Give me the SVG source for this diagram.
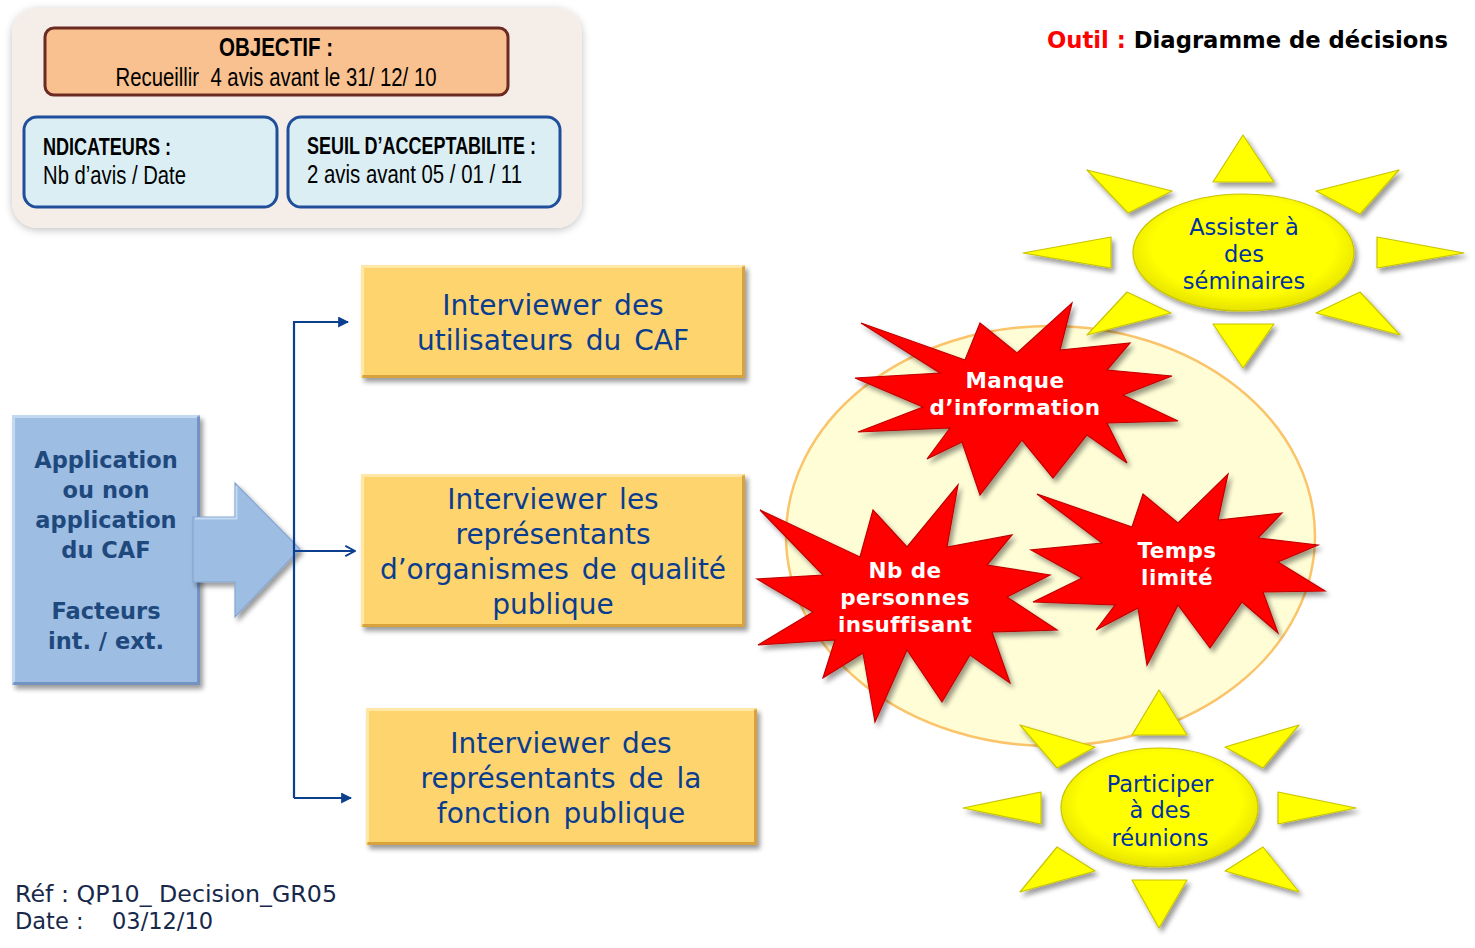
<svg xmlns="http://www.w3.org/2000/svg" width="1475" height="948" viewBox="0 0 1475 948">
<style>
.nar{font-family:"Liberation Sans Narrow","Liberation Sans",Arial,sans-serif;fill:#000;}
.b{font-weight:bold;}
.yb{fill:#fdd46e;}
.yhl{fill:none;stroke:#ffe8a6;stroke-width:3;}
.ydk{fill:none;stroke:#d8a23c;stroke-width:3;}
.yt{font-family:"DejaVu Sans",Verdana,sans-serif;font-size:28px;fill:#0a3c8f;text-anchor:middle;word-spacing:4px;}
.bt{font-family:"DejaVu Sans",Verdana,sans-serif;font-weight:bold;font-size:22.5px;fill:#1f497d;text-anchor:middle;}
.st{font-family:"DejaVu Sans",Verdana,sans-serif;font-weight:bold;font-size:21.5px;fill:#fff;text-anchor:middle;letter-spacing:0.4px;}
.star{fill:#ff0000;stroke:#c00000;stroke-width:1.2;stroke-linejoin:miter;}
.ray{fill:#ffff00;stroke:#c9c400;stroke-width:1.2;stroke-linejoin:round;}
.sunt{font-family:"DejaVu Sans",Verdana,sans-serif;font-size:22.5px;fill:#0033a0;text-anchor:middle;}
.conn{fill:none;stroke:#0d3f8f;stroke-width:2.2;}
.foot{font-family:"DejaVu Sans",Verdana,sans-serif;font-size:22.5px;fill:#17284a;}
</style>
<defs>
<filter id="sh" x="-10%" y="-10%" width="130%" height="130%">
<feGaussianBlur in="SourceAlpha" stdDeviation="2.5"/>
<feOffset dx="3" dy="4" result="o"/>
<feComponentTransfer><feFuncA type="linear" slope="0.4"/></feComponentTransfer>
<feMerge><feMergeNode/><feMergeNode in="SourceGraphic"/></feMerge>
</filter>
<filter id="glow" x="-10%" y="-10%" width="120%" height="125%">
<feGaussianBlur in="SourceAlpha" stdDeviation="4"/>
<feOffset dx="0" dy="2" result="o"/>
<feComponentTransfer><feFuncA type="linear" slope="0.25"/></feComponentTransfer>
<feMerge><feMergeNode/><feMergeNode in="SourceGraphic"/></feMerge>
</filter>
<radialGradient id="sunG" cx="50%" cy="45%" r="55%">
<stop offset="0.75" stop-color="#ffff00"/>
<stop offset="1" stop-color="#e6e200"/>
</radialGradient>
<radialGradient id="starG" cx="50%" cy="50%" r="55%">
<stop offset="0.6" stop-color="#ff0000"/>
<stop offset="1" stop-color="#f21010"/>
</radialGradient>
<marker id="ah" viewBox="0 0 10 10" refX="9" refY="5" markerWidth="5" markerHeight="5" orient="auto" markerUnits="strokeWidth">
<path d="M0,0 L10,5 L0,10 z" fill="#0d3f8f"/>
</marker>
<marker id="ao" viewBox="0 0 10 10" refX="9" refY="5" markerWidth="5.5" markerHeight="5.5" orient="auto" markerUnits="strokeWidth">
<path d="M1,0.8 L9,5 L1,9.2" fill="none" stroke="#0d3f8f" stroke-width="1.6"/>
</marker>
</defs>
<rect width="1475" height="948" fill="#fff"/>

<!-- top-left panel -->
<g id="panel">
<rect x="12" y="8" width="570" height="220" rx="26" fill="#f5ede7" filter="url(#glow)"/>
</g>
<g id="objectif">
<rect x="45" y="28" width="463" height="67" rx="9" fill="#f9c090" stroke="#6b2a22" stroke-width="3"/>
<text class="nar b" x="276" y="56" font-size="25" text-anchor="middle" textLength="114" lengthAdjust="spacingAndGlyphs">OBJECTIF :</text>
<text class="nar" x="276" y="86" font-size="25" text-anchor="middle" textLength="321" lengthAdjust="spacingAndGlyphs" xml:space="preserve">Recueillir  4 avis avant le 31/ 12/ 10</text>
</g>
<g id="indicateurs">
<rect x="24" y="117" width="253" height="90" rx="13" fill="#dbeef4" stroke="#1f4e9a" stroke-width="3"/>
<text class="nar b" x="43" y="155" font-size="24" textLength="128" lengthAdjust="spacingAndGlyphs">NDICATEURS :</text>
<text class="nar" x="43" y="184" font-size="25" textLength="143" lengthAdjust="spacingAndGlyphs">Nb d’avis / Date</text>
</g>
<g id="seuil">
<rect x="288" y="117" width="272" height="90" rx="13" fill="#dbeef4" stroke="#1f4e9a" stroke-width="3"/>
<text class="nar b" x="307" y="154" font-size="24" textLength="229" lengthAdjust="spacingAndGlyphs">SEUIL D’ACCEPTABILITE :</text>
<text class="nar" x="307" y="183" font-size="25" textLength="215" lengthAdjust="spacingAndGlyphs">2 avis avant 05 / 01 / 11</text>
</g>

<!-- title -->
<g id="title">
<text x="1047" y="48" font-family="DejaVu Sans,Verdana,sans-serif" font-weight="bold" font-size="22.5" textLength="401" lengthAdjust="spacingAndGlyphs"><tspan fill="#ff0000">Outil : </tspan><tspan fill="#000">Diagramme de décisions</tspan></text>
</g>

<!-- source box -->
<g id="source">
<rect x="12" y="415" width="188" height="270" fill="#9dbde3" filter="url(#sh)"/>
<path d="M13.5,683.5 V416.5 H198.5" fill="none" stroke="#c3d8f1" stroke-width="3"/>
<path d="M198.5,416.5 V683.5 H13.5" fill="none" stroke="#7393c0" stroke-width="3"/>
<polygon points="193,517 235,517 235,483 300,549 235,617 235,582 193,582" fill="#9dbde3" stroke="#86a6d0" stroke-width="1.2" filter="url(#sh)"/>
<path d="M195,518.5 H236.5 V486" fill="none" stroke="#c3d8f1" stroke-width="2"/>
<text class="bt" x="106" y="468">Application</text>
<text class="bt" x="106" y="498">ou non</text>
<text class="bt" x="106" y="528">application</text>
<text class="bt" x="106" y="558">du CAF</text>
<text class="bt" x="106" y="619">Facteurs</text>
<text class="bt" x="106" y="649">int. / ext.</text>
</g>

<!-- connectors -->
<g id="connectors">
<path class="conn" d="M294,798 V322 H348" marker-end="url(#ah)"/>
<path class="conn" d="M294,551 H355" marker-end="url(#ao)"/>
<path class="conn" d="M294,798 H351" marker-end="url(#ah)"/>
</g>

<!-- option boxes -->
<g id="opt1" filter="url(#sh)">
<rect class="yb" x="361" y="265" width="384" height="113"/>
<path class="yhl" d="M362.5,376.5 V266.5 H743.5"/>
<path class="ydk" d="M743.5,266.5 V376.5 H362.5"/>
</g>
<g id="opt1t">
<text class="yt" x="553" y="315">Interviewer des</text>
<text class="yt" x="553" y="350">utilisateurs du CAF</text>
</g>
<g id="opt2" filter="url(#sh)">
<rect class="yb" x="361" y="474" width="384" height="153"/>
<path class="yhl" d="M362.5,625.5 V475.5 H743.5"/>
<path class="ydk" d="M743.5,475.5 V625.5 H362.5"/>
</g>
<g id="opt2t">
<text class="yt" x="553" y="509">Interviewer les</text>
<text class="yt" x="553" y="544">représentants</text>
<text class="yt" x="553" y="579">d’organismes de qualité</text>
<text class="yt" x="553" y="614">publique</text>
</g>
<g id="opt3" filter="url(#sh)">
<rect class="yb" x="366" y="708" width="391" height="137"/>
<path class="yhl" d="M367.5,843.5 V709.5 H755.5"/>
<path class="ydk" d="M755.5,709.5 V843.5 H367.5"/>
</g>
<g id="opt3t">
<text class="yt" x="561" y="753">Interviewer des</text>
<text class="yt" x="561" y="788">représentants de la</text>
<text class="yt" x="561" y="823">fonction publique</text>
</g>

<!-- constraints ellipse -->
<g id="contraintes">
<ellipse cx="1050.5" cy="536" rx="264.5" ry="210" fill="#fefdd6" stroke="#fbc46a" stroke-width="2.5"/>
</g>

<!-- sun 1 -->
<g id="sun1" filter="url(#sh)">
<polygon class="ray" points="1243,135 1274,182 1213,182"/>
<polygon class="ray" points="1213,324 1274,324 1243,368"/>
<polygon class="ray" points="1023,253 1111,237 1111,268"/>
<polygon class="ray" points="1377,237 1464,253 1377,268"/>
<polygon class="ray" points="1087,170 1172,191 1128,213"/>
<polygon class="ray" points="1399,170 1316,191 1360,214"/>
<polygon class="ray" points="1087,335 1127,292 1171,313"/>
<polygon class="ray" points="1400,335 1360,292 1316,313"/>
<ellipse cx="1243.5" cy="252.5" rx="110.5" ry="58.5" fill="url(#sunG)" stroke="#c9c400" stroke-width="1.2"/>
</g>
<g id="sun1t">
<text class="sunt" x="1244" y="235">Assister à</text>
<text class="sunt" x="1244" y="262">des</text>
<text class="sunt" x="1244" y="289">séminaires</text>
</g>

<!-- sun 2 -->
<g id="sun2" filter="url(#sh)">
<polygon class="ray" points="1159,690 1187,735 1132,735"/>
<polygon class="ray" points="1132,880 1187,880 1159,928"/>
<polygon class="ray" points="963,808 1041,792 1041,824"/>
<polygon class="ray" points="1278,792 1356,808 1278,824"/>
<polygon class="ray" points="1020,725 1095,747 1057,768"/>
<polygon class="ray" points="1299,725 1225,747 1263,768"/>
<polygon class="ray" points="1020,892 1057,847 1095,871"/>
<polygon class="ray" points="1299,892 1263,847 1225,871"/>
<ellipse cx="1159.5" cy="807.5" rx="98.5" ry="59.5" fill="url(#sunG)" stroke="#c9c400" stroke-width="1.2"/>
</g>
<g id="sun2t">
<text class="sunt" x="1160" y="792">Participer</text>
<text class="sunt" x="1160" y="818">à des</text>
<text class="sunt" x="1160" y="846">réunions</text>
</g>

<!-- stars -->
<g id="star1">
<polygon class="star" fill="url(#starG)" filter="url(#sh)" points="861,323 965,360 980,323 1017,353 1072,303 1060,350 1130,343 1107,370 1172,376 1123,395 1178,421 1107,423 1127,463 1087,435 1053,478 1022,440 980,495 962,442 927,459 950,428 858,432 923,407 855,378 940,373"/>
<text class="st" x="1015" y="388">Manque</text>
<text class="st" x="1015" y="415">d’information</text>
</g>
<g id="star2">
<polygon class="star" fill="url(#starG)" filter="url(#sh)" points="760,510 860,557 873,510 907,547 958,485 947,547 1012,535 987,565 1050,575 1007,597 1057,630 992,632 1010,683 970,655 942,702 907,650 875,722 863,653 823,678 835,640 758,645 813,612 757,579 823,575"/>
<text class="st" x="905" y="578">Nb de</text>
<text class="st" x="905" y="605">personnes</text>
<text class="st" x="905" y="632">insuffisant</text>
</g>
<g id="star3">
<polygon class="star" fill="url(#starG)" filter="url(#sh)" points="1037,494 1132,527 1143,494 1178,523 1228,474 1218,520 1282,513 1258,538 1318,545 1278,562 1325,591 1263,592 1278,633 1242,602 1210,648 1178,605 1147,665 1138,608 1096,630 1115,605 1033,602 1082,578 1031,550 1102,543"/>
<text class="st" x="1177" y="558">Temps</text>
<text class="st" x="1177" y="585">limité</text>
</g>

<!-- footer -->
<g id="footer">
<text class="foot" x="15" y="902" textLength="322" lengthAdjust="spacingAndGlyphs">Réf : QP10_ Decision_GR05</text>
<text class="foot" x="15" y="929">Date :<tspan x="112">03/12/10</tspan></text>
</g>
</svg>
